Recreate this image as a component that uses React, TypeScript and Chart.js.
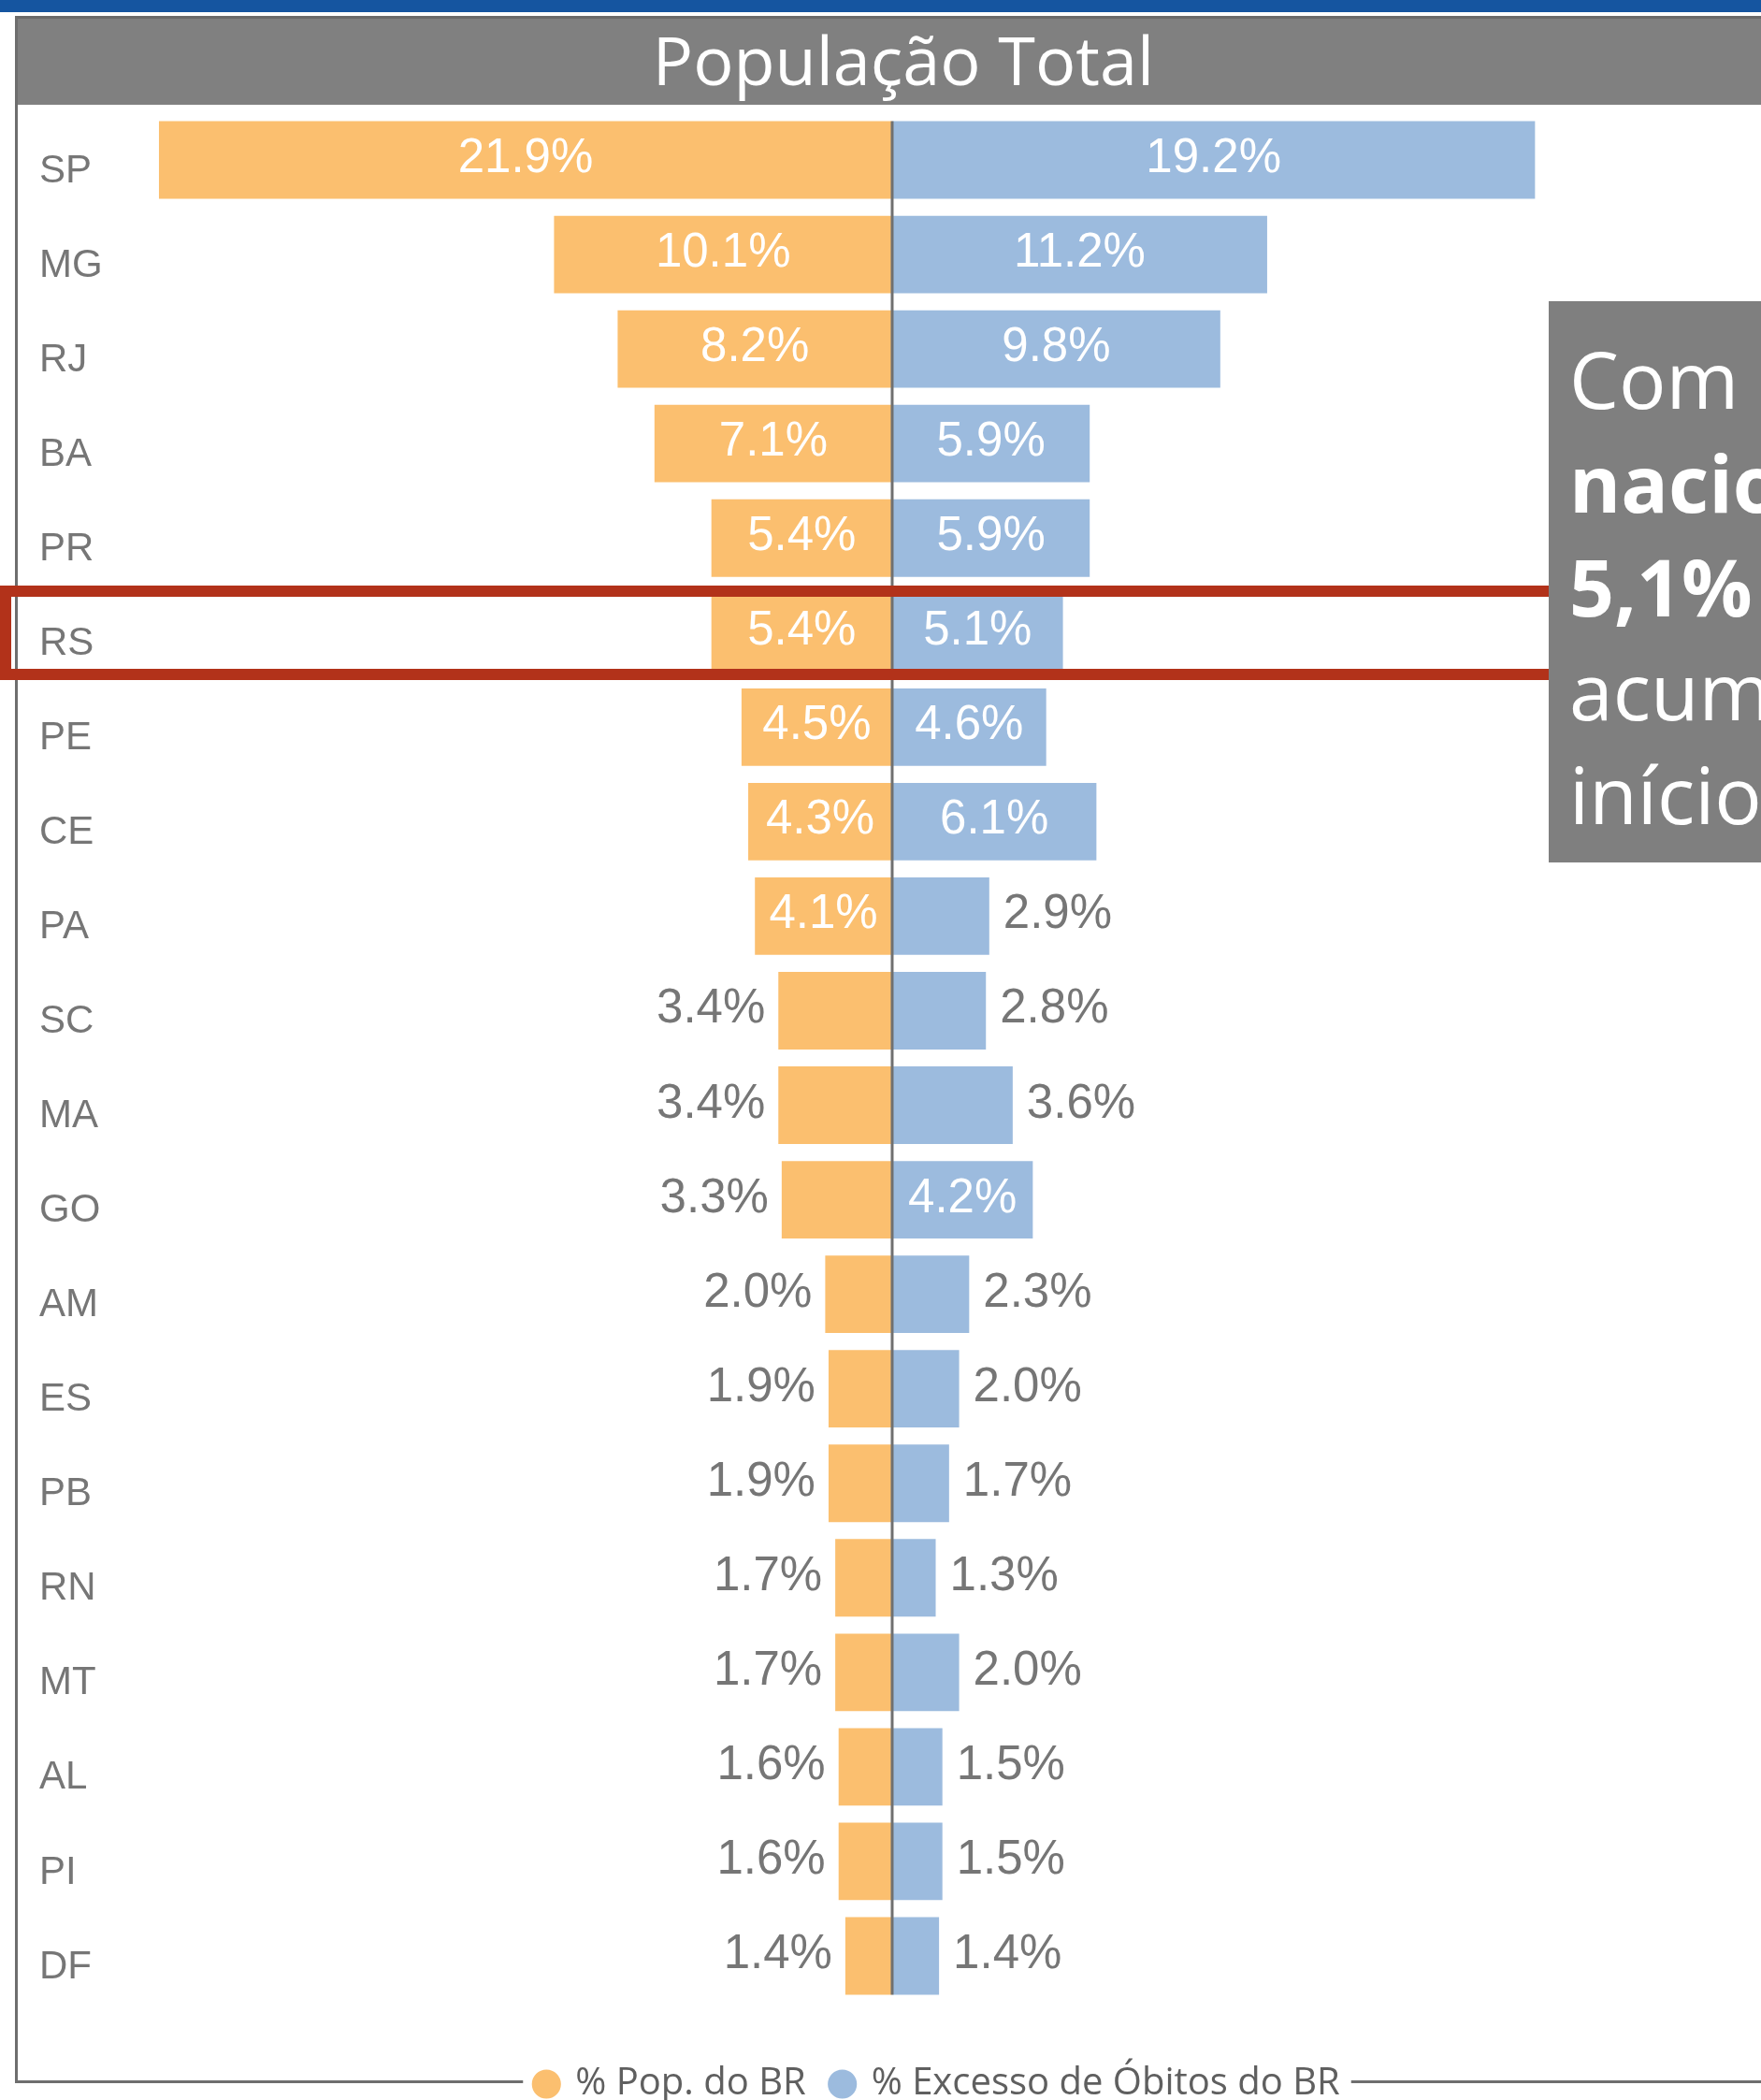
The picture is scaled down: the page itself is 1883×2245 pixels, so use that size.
import React, { useEffect, useRef } from 'react';
import { Chart, registerables } from 'chart.js';

Chart.register(...registerables);

const chartTitle = 'População Total';
const categories = ['SP', 'MG', 'RJ', 'BA', 'PR', 'RS', 'PE', 'CE', 'PA', 'SC', 'MA', 'GO', 'AM', 'ES', 'PB', 'RN', 'MT', 'AL', 'PI', 'DF'];
const popShare = [21.9, 10.1, 8.2, 7.1, 5.4, 5.4, 4.5, 4.3, 4.1, 3.4, 3.4, 3.3, 2.0, 1.9, 1.9, 1.7, 1.7, 1.6, 1.6, 1.4];
const excessShare = [19.2, 11.2, 9.8, 5.9, 5.9, 5.1, 4.6, 6.1, 2.9, 2.8, 3.6, 4.2, 2.3, 2.0, 1.7, 1.3, 2.0, 1.5, 1.5, 1.4];
const seriesNames = ['% Pop. do BR', '% Excesso de Óbitos do BR'];
const seriesColors = ['#FBBF6F', '#9CBBDE'];
const noteLines: { text: string; bold: boolean }[] = [
  { text: 'Com 5,4% da população', bold: false },
  { text: 'nacional, o RS tem', bold: true },
  { text: '5,1% do excesso de óbitos', bold: true },
  { text: 'acumulado desde o', bold: false },
  { text: 'início da pandemia.', bold: false },
];

export default function App() {
  const ref = useRef<HTMLCanvasElement>(null);

  useEffect(() => {
    if (!ref.current) return;
    const valueFont = '51px "Liberation Sans", Arial, sans-serif';

    const framePlugin = {
      id: 'frame',
      afterDraw(chart: any) {
        const ctx = chart.ctx;
        const hb = chart.legend && chart.legend.legendHitBoxes;
        ctx.save();
        ctx.fillStyle = '#6E6E6E';
        ctx.fillRect(16, 0, 3, 2115);
        if (hb && hb.length) {
          const gapL = hb[0].left - 14;
          const lastBox = hb[hb.length - 1];
          const gapR = lastBox.left + lastBox.width + 12;
          ctx.fillRect(16, 2112, gapL - 16, 3);
          ctx.fillRect(gapR, 2112, chart.width - gapR, 3);
        } else {
          ctx.fillRect(16, 2112, chart.width - 16, 3);
        }
        ctx.restore();
      },
    };

    const valuePlugin = {
      id: 'values',
      afterDatasetsDraw(chart: any) {
        const ctx = chart.ctx;
        const xs = chart.scales.x;
        const x0 = xs.getPixelForValue(0);
        const meta0 = chart.getDatasetMeta(0);
        const first = meta0.data[0];
        const last = meta0.data[meta0.data.length - 1];
        const top = first.y - first.height / 2;
        const bottom = last.y + last.height / 2;
        ctx.save();
        ctx.fillStyle = '#707070';
        ctx.fillRect(x0 - 1.5, top, 3, bottom - top);
        ctx.font = valueFont;
        ctx.textBaseline = 'alphabetic';
        chart.data.datasets.forEach((ds: any, di: number) => {
          const meta = chart.getDatasetMeta(di);
          meta.data.forEach((bar: any, i: number) => {
            const v = Math.abs(ds.data[i]);
            const text = v.toFixed(1) + '%';
            const tw = ctx.measureText(text).width;
            const left = Math.min(bar.x, bar.base);
            const right = Math.max(bar.x, bar.base);
            const w = right - left;
            const y = bar.y + 13;
            if (w >= tw + 20) {
              ctx.fillStyle = '#FFFFFF';
              ctx.textAlign = 'center';
              ctx.fillText(text, (left + right) / 2, y);
            } else if (di === 0) {
              ctx.fillStyle = '#767676';
              ctx.textAlign = 'right';
              ctx.fillText(text, left - 14, y);
            } else {
              ctx.fillStyle = '#767676';
              ctx.textAlign = 'left';
              ctx.fillText(text, right + 15, y);
            }
          });
        });
        ctx.restore();
      },
    };

    const chart = new Chart(ref.current, {
      type: 'bar',
      data: {
        labels: categories,
        datasets: [
          {
            label: seriesNames[0],
            data: popShare.map((v) => -v),
            backgroundColor: seriesColors[0],
            borderWidth: 0,
            barPercentage: 0.82,
            categoryPercentage: 1,
          },
          {
            label: seriesNames[1],
            data: excessShare,
            backgroundColor: seriesColors[1],
            borderWidth: 0,
            barPercentage: 0.82,
            categoryPercentage: 1,
          },
        ],
      },
      options: {
        indexAxis: 'y',
        responsive: false,
        animation: false,
        devicePixelRatio: 1,
        layout: { padding: { left: 42, right: 4, top: 8.5, bottom: 14 } },
        scales: {
          x: {
            stacked: true,
            min: -23.575,
            max: 26.313,
            display: true,
            grid: { display: false },
            border: { display: false },
            ticks: { display: false },
            afterFit: (s: any) => {
              s.height = 38.5;
              s.paddingLeft = 0;
              s.paddingRight = 0;
            },
          },
          y: {
            stacked: true,
            grid: { display: false },
            border: { display: false },
            ticks: {
              crossAlign: 'far',
              padding: 0,
              labelOffset: 12,
              autoSkip: false,
              color: '#767676',
              font: { family: '"Liberation Sans", Arial, sans-serif', size: 42 },
            },
            afterFit: (s: any) => {
              s.width = 68;
              s.paddingTop = 0;
              s.paddingBottom = 0;
            },
          },
        },
        plugins: {
          tooltip: { enabled: false },
          title: { display: false },
          legend: {
            display: true,
            position: 'bottom',
            fullSize: false,
            labels: {
              usePointStyle: true,
              pointStyle: 'circle',
              boxWidth: 22,
              boxHeight: 22,
              padding: 28,
              color: '#5F5F5F',
              font: { family: '"Open Sans", sans-serif', size: 40 },
            },
          },
        },
      } as any,
      plugins: [valuePlugin, framePlugin],
    });
    return () => chart.destroy();
  }, []);

  return (
    <div
      style={{
        position: 'fixed',
        left: 0,
        top: 0,
        width: 1883,
        height: 2245,
        overflow: 'hidden',
        background: '#FFFFFF',
      }}
    >
      <div style={{ position: 'absolute', left: 0, top: 0, width: 1883, height: 13, background: '#1555A0' }} />
      <div
        style={{
          position: 'absolute',
          left: 16,
          top: 17,
          width: 1900,
          height: 95,
          background: '#808080',
          borderTop: '3px solid #6A6A6A',
          borderLeft: '3px solid #6E6E6E',
          boxSizing: 'border-box',
        }}
      />
      <div
        style={{
          position: 'absolute',
          left: 16,
          top: 27,
          width: 1900,
          height: 72,
          lineHeight: '72px',
          textAlign: 'center',
          color: '#FFFFFF',
          fontFamily: '"Open Sans", sans-serif',
          fontSize: 72,
          whiteSpace: 'nowrap',
        }}
      >
        {chartTitle}
      </div>
      <canvas
        ref={ref}
        width={1900}
        height={2160}
        style={{ position: 'absolute', left: 0, top: 112 }}
      />
      <div
        style={{
          position: 'absolute',
          left: 0,
          top: 626,
          width: 1700,
          height: 101,
          border: '12px solid #B2321A',
          boxSizing: 'border-box',
          zIndex: 2,
        }}
      />
      <div
        style={{
          position: 'absolute',
          left: 1656,
          top: 322,
          width: 400,
          height: 600,
          background: '#7F7F7F',
          zIndex: 3,
          paddingTop: 27,
          paddingLeft: 22,
          boxSizing: 'border-box',
          color: '#FFFFFF',
          fontFamily: '"Open Sans", sans-serif',
          fontSize: 84,
          lineHeight: '111px',
          whiteSpace: 'nowrap',
        }}
      >
        {noteLines.map((l, i) => (
          <div key={i} style={{ fontWeight: l.bold ? 700 : 400 }}>
            {l.text}
          </div>
        ))}
      </div>
    </div>
  );
}
